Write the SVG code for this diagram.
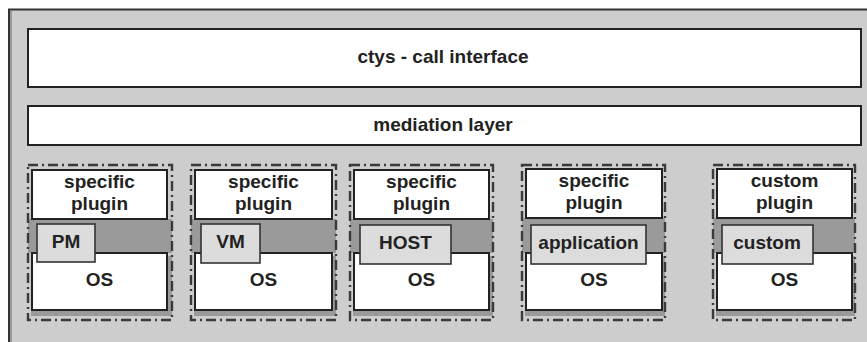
<svg xmlns="http://www.w3.org/2000/svg" width="867" height="342" viewBox="0 0 867 342">
<style>
text{font-family:"Liberation Sans",Arial,sans-serif;font-weight:bold;font-size:19px;fill:#222;text-anchor:middle}
.box{fill:#fff;stroke:#222;stroke-width:2}
.frame{fill:none;stroke:#3a3a3a;stroke-width:2.4;stroke-dasharray:10 4 2 4}
.band{fill:#9a9a9a}
.lbl{fill:#dcdcdc;stroke:#333;stroke-width:1.6}
</style>
<rect x="0" y="0" width="867" height="342" fill="#fff"/>
<g id="frame">
<rect x="9" y="9.5" width="870" height="345" fill="#cdcdcd" stroke="#333" stroke-width="2"/>
<line x1="11" y1="11" x2="11" y2="342" stroke="#999" stroke-width="2"/>
</g>
<g id="call-interface">
<rect class="box" x="28" y="29" width="833" height="58"/>
<text x="443" y="63">ctys - call interface</text>
</g>
<g id="mediation-layer">
<rect class="box" x="28" y="106" width="833" height="39"/>
<text x="443" y="131">mediation layer</text>
</g>
<g id="pm-stack">
<rect class="band" x="28" y="219" width="144" height="34"/>
<rect class="band" x="31" y="256" width="141" height="60"/>
<rect class="box" x="32" y="170" width="135" height="49"/>
<rect class="box" x="32" y="253" width="135" height="57"/>
<rect class="frame" x="28" y="165" width="144" height="155"/>
<text x="99.5" y="188">specific</text>
<text x="99.5" y="210">plugin</text>
<rect class="lbl" x="37" y="224" width="58" height="38"/>
<text x="66" y="248">PM</text>
<text x="99.5" y="286">OS</text>
</g>
<g id="vm-stack">
<rect class="band" x="191" y="219" width="145" height="34"/>
<rect class="band" x="194" y="256" width="142" height="60"/>
<rect class="box" x="195" y="170" width="137" height="49"/>
<rect class="box" x="195" y="253" width="137" height="57"/>
<rect class="frame" x="191" y="165" width="145" height="155"/>
<text x="263.5" y="188">specific</text>
<text x="263.5" y="210">plugin</text>
<rect class="lbl" x="201" y="224" width="59" height="39"/>
<text x="230.5" y="248">VM</text>
<text x="263.5" y="286">OS</text>
</g>
<g id="host-stack">
<rect class="band" x="350" y="219" width="143" height="34"/>
<rect class="band" x="353" y="256" width="140" height="60"/>
<rect class="box" x="354" y="170" width="135" height="49"/>
<rect class="box" x="354" y="253" width="135" height="57"/>
<rect class="frame" x="350" y="165" width="143" height="155"/>
<text x="421.5" y="188">specific</text>
<text x="421.5" y="210">plugin</text>
<rect class="lbl" x="360" y="225" width="91" height="39"/>
<text x="405.5" y="249">HOST</text>
<text x="421.5" y="286">OS</text>
</g>
<g id="application-stack">
<rect class="band" x="522" y="218" width="143" height="35"/>
<rect class="band" x="525" y="256" width="140" height="60"/>
<rect class="box" x="526" y="169" width="136" height="49"/>
<rect class="box" x="526" y="253" width="136" height="57"/>
<rect class="frame" x="522" y="165" width="143" height="155"/>
<text x="594" y="187">specific</text>
<text x="594" y="209">plugin</text>
<rect class="lbl" x="531" y="225" width="115" height="39"/>
<text x="588.5" y="249">application</text>
<text x="594" y="286">OS</text>
</g>
<g id="custom-stack">
<rect class="band" x="713" y="218" width="142" height="35"/>
<rect class="band" x="716" y="256" width="139" height="60"/>
<rect class="box" x="717" y="169" width="135" height="49"/>
<rect class="box" x="717" y="253" width="135" height="57"/>
<rect class="frame" x="713" y="165" width="142" height="155"/>
<text x="784.5" y="187">custom</text>
<text x="784.5" y="209">plugin</text>
<rect class="lbl" x="722" y="225" width="91" height="39"/>
<text x="767" y="249">custom</text>
<text x="784.5" y="286">OS</text>
</g>
<g id="connectors"/>
</svg>
